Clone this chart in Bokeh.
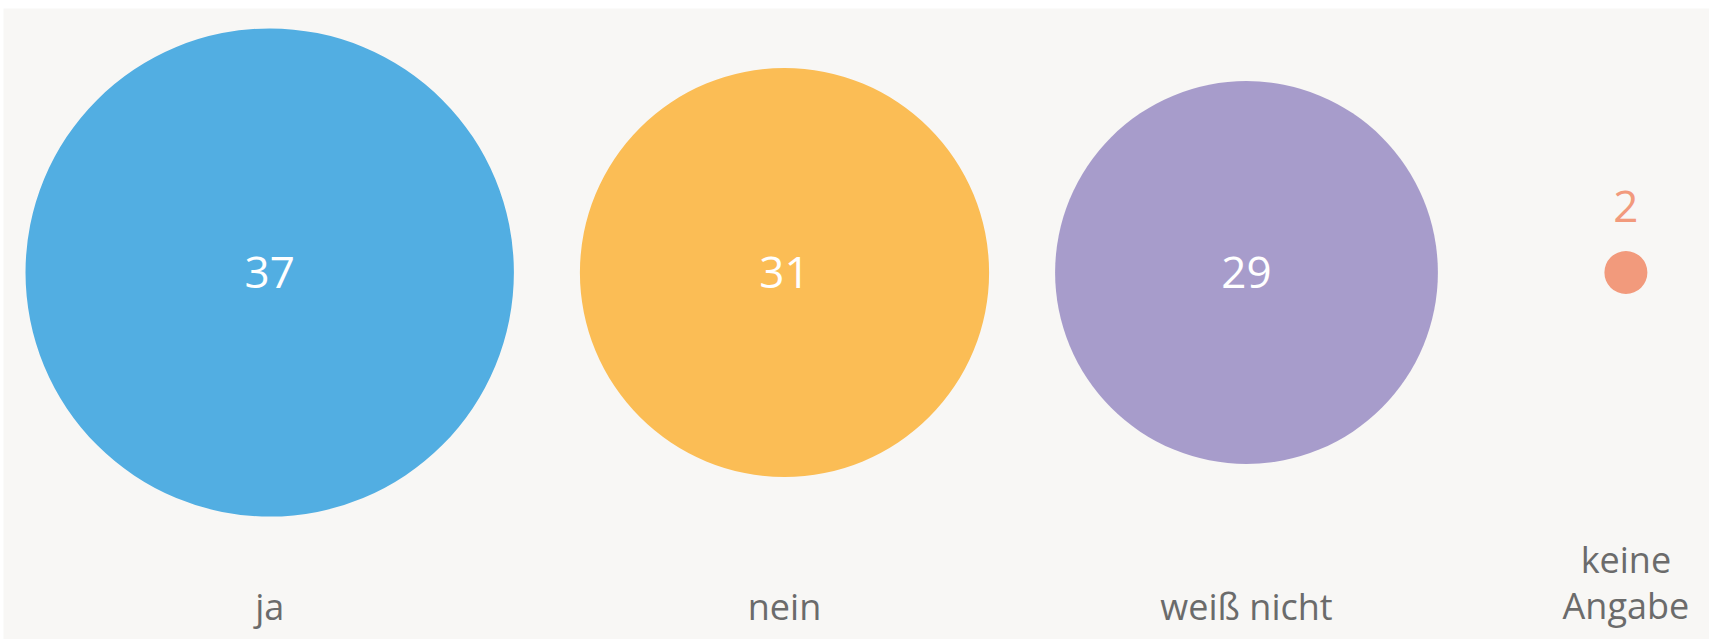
from bokeh.plotting import figure
from bokeh.models import Range1d, ColumnDataSource
from bokeh.core.properties import value
from bokeh.embed import file_html
from bokeh.resources import INLINE

# ---- data ----
categories = ["ja", "nein", "weiß nicht", "keine\nAngabe"]
values = [37, 31, 29, 2]
colors = ["#52aee2", "#fbbd55", "#a79ccb", "#f29a7c"]

# ---- layout parameters (1 data unit = 1 px, picture coordinates) ----
W, H = 1709, 639
PAD_TOP, PAD_LEFT = 8, 3
PX_PER_UNIT = 6.6
MIN_R = 21.5
GAP = 66
MIN_SLOT_HALF = 122
LEFT = 25           # left edge of first circle
CY = 272            # circle centre
LABEL_BOTTOM = 630  # bottom of category label block

radii = [max(v * PX_PER_UNIT, MIN_R) for v in values]
halves = [max(r, MIN_SLOT_HALF) for r in radii]
xs = []
for i, h in enumerate(halves):
    if i == 0:
        xs.append(LEFT + h)
    else:
        xs.append(xs[-1] + halves[i - 1] + GAP + h)

inside = [r > 60 for r in radii]
num_y = [CY if ins else CY - r - 45 for ins, r in zip(inside, radii)]
num_col = ["#ffffff" if ins else c for ins, c in zip(inside, colors)]
num_txt = [str(v) for v in values]

src = ColumnDataSource(dict(x=xs, y=[CY] * len(xs), r=radii, color=colors,
                            ny=num_y, ncol=num_col, ntxt=num_txt,
                            cat=categories, cy=[LABEL_BOTTOM] * len(xs)))

p = figure(width=W, height=H, output_backend="svg", toolbar_location=None,
           x_range=Range1d(PAD_LEFT, W), y_range=Range1d(H, PAD_TOP),
           x_axis_location=None, y_axis_location=None,
           min_border=0, min_border_top=PAD_TOP, min_border_left=PAD_LEFT,
           background_fill_color="#f8f7f5",
           border_fill_color="#ffffff", outline_line_color=None)
p.grid.visible = False

p.circle(x="x", y="y", radius="r", fill_color="color", line_color=None, source=src)
p.text(x="x", y="ny", text="ntxt", text_color="ncol", text_align="center",
       text_baseline="middle", text_font=value("Open Sans"),
       text_font_size="44px", source=src)
p.text(x="x", y="cy", text="cat", text_color="#6b6b6b", text_align="center",
       text_baseline="bottom", text_font=value("Open Sans"),
       text_font_size="36px", text_line_height=0.94, source=src)

open("out.html", "w").write(file_html(p, INLINE))
